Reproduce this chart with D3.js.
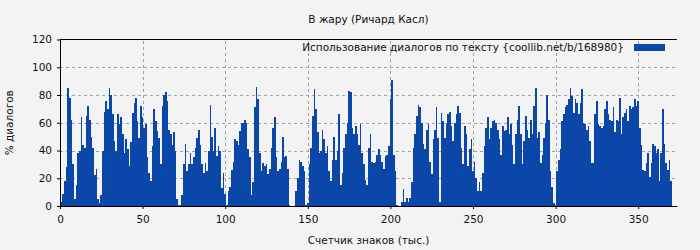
<!DOCTYPE html>
<html>
<head>
<meta charset="utf-8">
<script src="https://cdn.jsdelivr.net/npm/d3@7"></script>
<style>
  html, body { margin: 0; padding: 0; background: #f3f3f3; }
  svg text { font-family: "DejaVu Sans", sans-serif; fill: #111; }
</style>
</head>
<body>
<div id="chart"></div>
<script>
// dialog share (%) per 1k characters of text
var dialogShare = [
  3, 9, 18, 28, 85, 78, 62, 30, 5, 15,
  38, 40, 64, 44, 42, 65, 72, 62, 50, 42,
  22, 27, 5, 2, 8, 40, 68, 76, 70, 85,
  80, 66, 47, 40, 66, 59, 64, 52, 38, 48,
  41, 29, 46, 67, 74, 78, 61, 49, 72, 64,
  56, 59, 35, 24, 18, 43, 70, 61, 54, 49,
  30, 72, 80, 82, 76, 55, 52, 44, 53, 40,
  5, 1, 1, 8, 30, 45, 25, 30, 38, 30,
  35, 42, 49, 55, 44, 30, 24, 31, 25, 40,
  73, 50, 40, 56, 36, 43, 40, 13, 24, 9,
  1, 11, 14, 26, 32, 48, 47, 44, 54, 60,
  60, 62, 60, 41, 35, 8, 17, 71, 86, 77,
  38, 25, 31, 29, 30, 23, 27, 42, 56, 64,
  35, 25, 27, 32, 50, 35, 36, 27, 1, 0,
  0, 0, 11, 20, 33, 32, 29, 25, 1, 2,
  30, 42, 65, 84, 70, 53, 38, 40, 55, 48,
  38, 43, 25, 18, 33, 50, 33, 40, 66, 15,
  24, 42, 52, 60, 83, 82, 56, 52, 58, 52,
  44, 59, 38, 30, 19, 15, 42, 52, 32, 31,
  32, 37, 41, 37, 32, 27, 36, 37, 43, 77,
  91, 37, 25, 1, 0, 0, 3, 12, 3, 6,
  3, 6, 17, 42, 52, 65, 73, 71, 60, 45,
  41, 55, 59, 32, 23, 48, 55, 71, 49, 3,
  67, 61, 49, 59, 66, 68, 58, 47, 60, 66,
  72, 67, 42, 30, 58, 52, 29, 41, 48, 25,
  32, 20, 11, 17, 11, 24, 43, 56, 64, 48,
  56, 61, 62, 60, 55, 48, 37, 58, 54, 55,
  64, 52, 59, 44, 30, 52, 62, 72, 52, 30,
  47, 65, 55, 49, 62, 52, 72, 85, 49, 53,
  31, 37, 49, 60, 80, 62, 25, 14, 2, 1,
  25, 33, 41, 61, 66, 71, 73, 77, 85, 79,
  67, 77, 74, 66, 74, 84, 60, 59, 55, 58,
  47, 31, 31, 66, 76, 59, 58, 56, 58, 70,
  76, 66, 62, 61, 71, 53, 62, 61, 78, 52,
  64, 67, 70, 61, 72, 70, 71, 77, 72, 76,
  56, 44, 26, 25, 31, 38, 21, 31, 45, 43,
  38, 41, 18, 38, 70, 45, 31, 26, 33, 18
];
var xTicks = [0, 50, 100, 150, 200, 250, 300, 350];
var yTicks = [0, 20, 40, 60, 80, 100, 120];

var chartTitle = "В жару (Ричард Касл)";
var legendLabel = "Использование диалогов по тексту {coollib.net/b/168980}";
var xTitle = "Счетчик знаков (тыс.)";
var yTitle = "% диалогов";

var width = 700, height = 250;
var margin = { top: 39.5, right: 23, bottom: 44, left: 60 };
var fontSize = 10.5;

var x = d3.scaleLinear().domain([0, 373.5]).range([margin.left, width - margin.right]);
var y = d3.scaleLinear().domain([0, 120]).range([height - margin.bottom, margin.top]);

var svg = d3.select("#chart").append("svg")
  .attr("width", width)
  .attr("height", height);

svg.append("rect")
  .attr("width", width).attr("height", height)
  .attr("fill", "#f3f3f3");

// grid
var grid = svg.append("g").attr("stroke", "#a0a0a0").attr("stroke-dasharray", "3,3").attr("stroke-width", 1);
grid.selectAll(".gx").data(xTicks.filter(function(d) { return d > 0; }))
  .enter().append("line")
  .attr("x1", function(d) { return Math.round(x(d)) + 0.5; })
  .attr("x2", function(d) { return Math.round(x(d)) + 0.5; })
  .attr("y1", y(0)).attr("y2", y(120));
grid.selectAll(".gy").data(yTicks.filter(function(d) { return d > 0 && d < 120; }))
  .enter().append("line")
  .attr("y1", function(d) { return Math.round(y(d)) + 0.5; })
  .attr("y2", function(d) { return Math.round(y(d)) + 0.5; })
  .attr("x1", x(0)).attr("x2", x.range()[1]);

// bars
svg.append("g")
  .attr("fill", "#0b46a9")
  .attr("shape-rendering", "crispEdges")
  .selectAll("rect")
  .data(dialogShare)
  .enter().append("rect")
  .attr("x", function(d, i) { return x(i + 0.5); })
  .attr("width", function(d, i) { return x(i + 1.5) - x(i + 0.5); })
  .attr("y", function(d) { return y(d); })
  .attr("height", function(d) { return y(0) - y(d); });

// axes
var xAxis = d3.axisBottom(x).tickValues(xTicks).tickSize(3).tickSizeOuter(0).tickPadding(7);
var yAxis = d3.axisLeft(y).tickValues(yTicks).tickSize(3).tickSizeOuter(0).tickPadding(5);

var gx = svg.append("g")
  .attr("transform", "translate(0," + y(0) + ")")
  .call(xAxis);
var gy = svg.append("g")
  .attr("transform", "translate(" + x(0) + ",0)")
  .call(yAxis);
[gx, gy].forEach(function(g) {
  g.select(".domain").attr("stroke", "#000");
  g.selectAll(".tick line").attr("stroke", "#000");
  g.selectAll(".tick text").attr("font-size", fontSize).attr("font-family", "DejaVu Sans, sans-serif").attr("fill", "#111");
});

// top frame line
svg.append("line")
  .attr("x1", x(0)).attr("x2", x.range()[1])
  .attr("y1", y(120)).attr("y2", y(120))
  .attr("stroke", "#000");

// titles
svg.append("text")
  .attr("x", (x.range()[0] + x.range()[1]) / 2).attr("y", 23)
  .attr("text-anchor", "middle").attr("font-size", fontSize)
  .text(chartTitle);
svg.append("text")
  .attr("x", (x.range()[0] + x.range()[1]) / 2).attr("y", 244)
  .attr("text-anchor", "middle").attr("font-size", fontSize)
  .text(xTitle);
svg.append("text")
  .attr("transform", "translate(13," + (y(60)) + ") rotate(-90)")
  .attr("text-anchor", "middle").attr("font-size", fontSize)
  .text(yTitle);

// legend
svg.append("text")
  .attr("x", 624).attr("y", 51)
  .attr("text-anchor", "end").attr("font-size", fontSize)
  .text(legendLabel);
svg.append("rect")
  .attr("x", 634).attr("y", 44)
  .attr("width", 31).attr("height", 7)
  .attr("fill", "#0b46a9");
</script>
</body>
</html>
